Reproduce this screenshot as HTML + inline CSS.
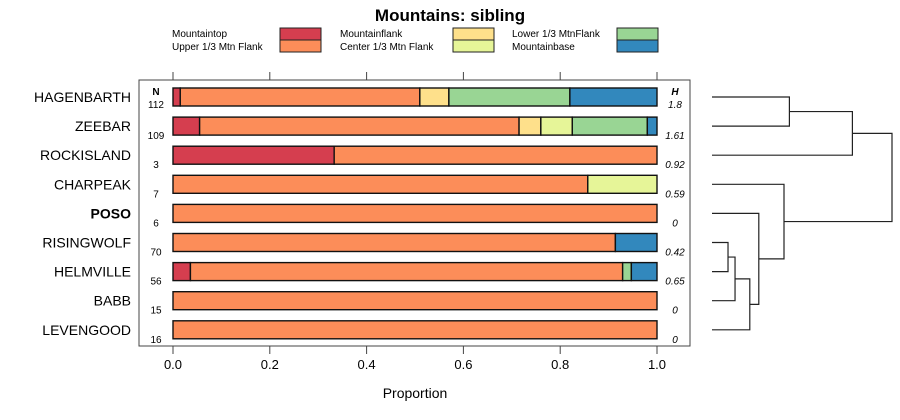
<!DOCTYPE html>
<html><head><meta charset="utf-8"><style>body{margin:0;background:#fff}svg{display:block;font-family:"Liberation Sans",sans-serif}</style></head>
<body>
<svg id="chart" width="900" height="420" viewBox="0 0 900 420" xmlns="http://www.w3.org/2000/svg">
<text x="450" y="21" text-anchor="middle" font-size="17" font-weight="bold">Mountains: sibling</text>
<g id="legend"></g>
<rect x="139" y="80" width="551" height="266" fill="none" stroke="#444" stroke-width="1"/>
<g id="bars"></g>
<g id="axis"></g>
<g id="dendro" stroke="#222" stroke-width="1.2" fill="none"></g>
<text x="415" y="398" text-anchor="middle" font-size="14">Proportion</text>
</svg>
<script>
const categories=["Mountaintop","Upper 1/3 Mtn Flank","Mountainflank","Center 1/3 Mtn Flank","Lower 1/3 MtnFlank","Mountainbase"];
const colors=["#D53E4F","#FC8D59","#FEE08B","#E6F598","#99D594","#3288BD"];
const sites=["HAGENBARTH","ZEEBAR","ROCKISLAND","CHARPEAK","POSO","RISINGWOLF","HELMVILLE","BABB","LEVENGOOD"];
const nValues=["112","109","3","7","6","70","56","15","16"];
const hValues=["1.8","1.61","0.92","0.59","0","0.42","0.65","0","0"];
const proportions=[
 [0.015,0.495,0.06,0,0.25,0.18],
 [0.055,0.66,0.045,0.065,0.155,0.02],
 [0.333,0.667,0,0,0,0],
 [0,0.857,0,0.143,0,0],
 [0,1,0,0,0,0],
 [0,0.914,0,0,0,0.086],
 [0.036,0.893,0,0,0.018,0.053],
 [0,1,0,0,0,0],
 [0,1,0,0,0,0]
];
const xTicks=[0,0.2,0.4,0.6,0.8,1.0];
const xTickLabels=["0.0","0.2","0.4","0.6","0.8","1.0"];
// dendrogram merges: [a, b, height]; leaves 0..8, new nodes 9..
const merges=[[0,1,0.43],[9,2,0.78],[5,6,0.089],[11,7,0.128],[12,8,0.21],[4,13,0.26],[3,14,0.40],[10,15,1.0]];
const NS="http://www.w3.org/2000/svg";
const x=v=>173+v*484;
const y=i=>97+i*29.1;
function mk(tag,attrs,parent){const e=document.createElementNS(NS,tag);for(const k in attrs)e.setAttribute(k,attrs[k]);parent.appendChild(e);return e;}
const lg=document.getElementById('legend');
categories.forEach((c,i)=>{
 const col=Math.floor(i/2),row=i%2;
 const tx=[172,340,512][col],bx=[280,453,617][col];
 const t=mk('text',{x:tx,y:37+row*13,'font-size':10},lg);t.textContent=c;
 
 
 const r=mk('rect',{x:bx,y:28+row*12,width:41,height:12,fill:colors[i],stroke:'#222','stroke-width':1},lg);
 
 
});
const bg=document.getElementById('bars');
sites.forEach((s,i)=>{
 const lab=mk('text',{x:131,y:y(i)+5,'text-anchor':'end','font-size':14,'font-weight':s==='POSO'?'bold':'normal'},bg);lab.textContent=s;
 
 
 const n=mk('text',{x:156,y:y(i)+(i===0?11:13),'text-anchor':'middle','font-size':10},bg);n.textContent=nValues[i];
 
 
 const h=mk('text',{x:675,y:y(i)+(i===0?11:13),'text-anchor':'middle','font-size':10,'font-style':'italic'},bg);h.textContent=hValues[i];
 
 
 let cum=0;
 proportions[i].forEach((p,k)=>{
  if(p<=0)return;
  const r=mk('rect',{x:x(cum),y:y(i)-9,width:x(cum+p)-x(cum),height:18,fill:colors[k],stroke:'#111','stroke-width':1.4},bg);
  
  
  cum+=p;
 });
});
const nh=mk('text',{x:156,y:95,'text-anchor':'middle','font-size':10,'font-weight':'bold'},bg);nh.textContent='N';


const hh=mk('text',{x:675,y:95,'text-anchor':'middle','font-size':10,'font-weight':'bold','font-style':'italic'},bg);hh.textContent='H';


const ax=document.getElementById('axis');
xTicks.forEach((v,i)=>{
 mk('line',{x1:x(v),x2:x(v),y1:72,y2:80,stroke:'#444'},ax);
 mk('line',{x1:x(v),x2:x(v),y1:346,y2:354,stroke:'#444'},ax);
 const t=mk('text',{x:x(v),y:369,'text-anchor':'middle','font-size':13},ax);t.textContent=xTickLabels[i];
 
 
});
const dg=document.getElementById('dendro');
const dx=h=>712+h*180;
const nodes=sites.map((s,i)=>({y:y(i),h:0}));
merges.forEach(([a,b,h])=>{
 const A=nodes[a],B=nodes[b];
 const p=mk('path',{d:`M${dx(A.h)},${A.y}H${dx(h)}V${B.y}H${dx(B.h)}`},dg);
 
 
 nodes.push({y:(A.y+B.y)/2,h:h});
});
</script>
</body></html>
